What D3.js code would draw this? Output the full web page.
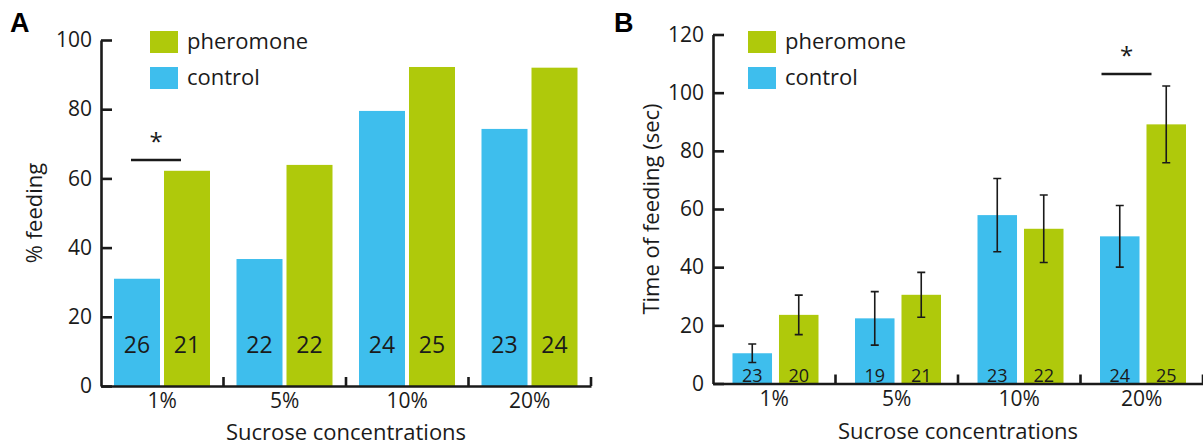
<!DOCTYPE html>
<html>
<head>
<meta charset="utf-8">
<script src="https://cdn.jsdelivr.net/npm/d3@7"></script>
<style>
  html, body { margin: 0; padding: 0; background: #fff; }
  svg { display: block; font-family: "Open Sans", "Noto Sans", sans-serif; }
</style>
</head>
<body>
<svg id="chart" width="1203" height="446"></svg>
<script>
// Sucrose concentrations tested
const concentrations = ["1%", "5%", "10%", "20%"];
const seriesNames = ["control", "pheromone"];

// Panel A: percentage of flies feeding
const feedingControl = [31.0, 36.7, 79.5, 74.3];
const feedingPheromone = [62.2, 63.9, 92.2, 92.0];
const feedingNControl = [26, 22, 24, 23];
const feedingNPheromone = [21, 22, 25, 24];
const feedingTicks = [0, 20, 40, 60, 80, 100];

// Panel B: time spent feeding (sec), mean and SEM
const timeControl = [10.4, 22.4, 57.9, 50.6];
const timePheromone = [23.6, 30.5, 53.2, 89.1];
const timeErrControl = [3.2, 9.2, 12.6, 10.6];
const timeErrPheromone = [6.8, 7.7, 11.6, 13.2];
const timeNControl = [23, 19, 23, 24];
const timeNPheromone = [20, 21, 22, 25];
const timeTicks = [0, 20, 40, 60, 80, 100, 120];

const colors = { control: "#3ebeed", pheromone: "#afc90b" };
const ink = "#1a1a1a";

const svg = d3.select("#chart");

function drawPanel(cfg) {
  const g = svg.append("g");

  const y = d3.scaleLinear().domain(cfg.yDomain).range([cfg.bottom, cfg.top]);
  const x = d3.scaleBand().domain(concentrations).range([cfg.left, cfg.right]);
  const xs = d3.scaleBand().domain(seriesNames).range(cfg.innerRange).paddingInner(cfg.innerPad);

  const rows = concentrations.map((c, i) => ({
    c,
    control: { v: cfg.control[i], e: cfg.errControl ? cfg.errControl[i] : null, n: cfg.nControl[i] },
    pheromone: { v: cfg.pheromone[i], e: cfg.errPheromone ? cfg.errPheromone[i] : null, n: cfg.nPheromone[i] }
  }));

  // bars
  const groups = g.selectAll(".grp").data(rows).join("g")
    .attr("transform", d => `translate(${x(d.c)},0)`);

  seriesNames.forEach(s => {
    groups.append("rect")
      .attr("x", xs(s))
      .attr("width", xs.bandwidth())
      .attr("y", d => y(d[s].v))
      .attr("height", d => y(0) - y(d[s].v))
      .attr("fill", colors[s]);

    if (cfg.errControl) {
      const cx = xs(s) + xs.bandwidth() / 2;
      const cap = 4;
      groups.append("path")
        .attr("d", d => {
          const hi = y(d[s].v + d[s].e), lo = y(d[s].v - d[s].e);
          return `M${cx},${hi}V${lo}M${cx - cap},${hi}H${cx + cap}M${cx - cap},${lo}H${cx + cap}`;
        })
        .attr("stroke", ink).attr("stroke-width", 1.6).attr("fill", "none");
    }

    groups.append("text")
      .attr("x", xs(s) + xs.bandwidth() / 2)
      .attr("y", cfg.nLabelY)
      .attr("text-anchor", "middle")
      .attr("font-size", cfg.nFont)
      .attr("fill", ink)
      .text(d => d[s].n);
  });

  // y axis
  const yAxis = d3.axisLeft(y).tickValues(cfg.yTicks)
    .tickSizeInner(-11).tickSizeOuter(0).tickPadding(9);
  const ya = g.append("g").attr("transform", `translate(${cfg.left},0)`).call(yAxis);
  ya.select(".domain").attr("stroke", ink).attr("stroke-width", 2.6);
  ya.selectAll(".tick line").attr("stroke", ink).attr("stroke-width", 2.6);
  ya.selectAll(".tick text").attr("font-size", 21).attr("fill", ink)
    .attr("font-family", "'Open Sans', sans-serif");

  // x axis with labels at group centres and ticks at group boundaries
  const xAxis = d3.axisBottom(x).tickSize(0).tickPadding(cfg.xPad);
  const xa = g.append("g").attr("transform", `translate(0,${cfg.bottom})`).call(xAxis);
  xa.select(".domain").attr("stroke", ink).attr("stroke-width", 2.6);
  xa.selectAll(".tick text").attr("font-size", 21).attr("fill", ink)
    .attr("font-family", "'Open Sans', sans-serif");
  const bounds = concentrations.map(c => x(c) + x.step());
  g.selectAll(".bt").data(bounds).join("line")
    .attr("x1", d => d).attr("x2", d => d)
    .attr("y1", cfg.bottom).attr("y2", cfg.bottom - 9)
    .attr("stroke", ink).attr("stroke-width", 2.6);

  // axis titles
  g.append("text")
    .attr("x", (cfg.left + cfg.right) / 2)
    .attr("y", cfg.xTitleY)
    .attr("text-anchor", "middle").attr("font-size", 22).attr("fill", ink)
    .text("Sucrose concentrations");
  g.append("text")
    .attr("transform", `translate(${cfg.yTitleX},${(cfg.top + cfg.bottom) / 2}) rotate(-90)`)
    .attr("text-anchor", "middle").attr("font-size", 22).attr("fill", ink)
    .text(cfg.yTitle);

  // panel letter
  g.append("text")
    .attr("x", cfg.letterX).attr("y", 32)
    .attr("font-family", "'Liberation Sans', Arial, sans-serif")
    .attr("font-weight", "bold").attr("font-size", 27).attr("fill", "#000")
    .text(cfg.letter);

  // legend
  const legend = [["pheromone", 31], ["control", 67]];
  legend.forEach(([s, ly]) => {
    g.append("rect").attr("x", cfg.legendX).attr("y", ly)
      .attr("width", 28).attr("height", 22).attr("fill", colors[s]);
    g.append("text").attr("x", cfg.legendX + 37).attr("y", ly + 18)
      .attr("font-size", 22).attr("fill", ink).text(s);
  });

  // significance marker
  const sx0 = x(cfg.sigAt) + cfg.sigRange[0], sx1 = x(cfg.sigAt) + cfg.sigRange[1];
  g.append("line").attr("x1", sx0).attr("x2", sx1)
    .attr("y1", cfg.sigY).attr("y2", cfg.sigY)
    .attr("stroke", ink).attr("stroke-width", 2.4);
  g.append("text").attr("x", (sx0 + sx1) / 2).attr("y", cfg.sigY - 10)
    .attr("text-anchor", "middle").attr("font-size", 24).attr("fill", ink).text("*");
}

drawPanel({
  letter: "A", letterX: 10,
  left: 101, right: 591, top: 40, bottom: 386,
  yDomain: [0, 100], yTicks: feedingTicks,
  innerRange: [13, 109], innerPad: 0.08,
  control: feedingControl, pheromone: feedingPheromone,
  nControl: feedingNControl, nPheromone: feedingNPheromone,
  nLabelY: 353, nFont: 23,
  xPad: 7, xTitleY: 440,
  yTitle: "% feeding", yTitleX: 42,
  legendX: 150,
  sigAt: "1%", sigRange: [30, 80], sigY: 160
});

drawPanel({
  letter: "B", letterX: 614,
  left: 713, right: 1203, top: 34.5, bottom: 383.5,
  yDomain: [0, 120], yTicks: timeTicks,
  innerRange: [19.5, 105.5], innerPad: 0.15,
  control: timeControl, pheromone: timePheromone,
  errControl: timeErrControl, errPheromone: timeErrPheromone,
  nControl: timeNControl, nPheromone: timeNPheromone,
  nLabelY: 382, nFont: 18,
  xPad: 8, xTitleY: 439,
  yTitle: "Time of feeding (sec)", yTitleX: 659,
  legendX: 748,
  sigAt: "20%", sigRange: [21, 71], sigY: 74
});
</script>
</body>
</html>
